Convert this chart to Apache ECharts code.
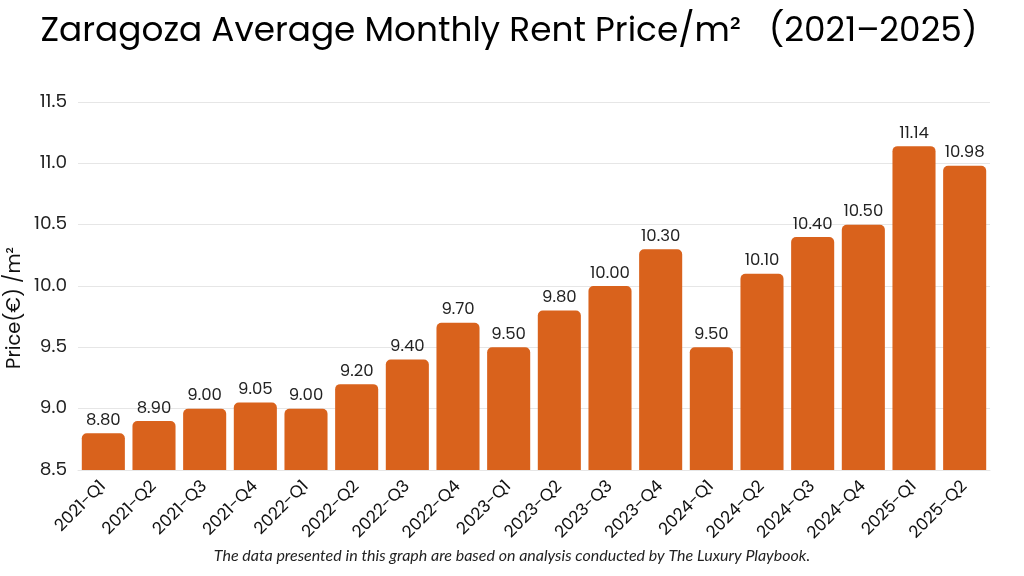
<!DOCTYPE html>
<html><head><meta charset="utf-8">
<script src="https://cdn.jsdelivr.net/npm/echarts@6/dist/echarts.min.js"></script>
<style>html,body{margin:0;padding:0;background:#fff}#c{width:1024px;height:576px}</style>
</head><body><div id="c"></div>
<script>
const categories = ['2021-Q1','2021-Q2','2021-Q3','2021-Q4','2022-Q1','2022-Q2','2022-Q3','2022-Q4','2023-Q1','2023-Q2','2023-Q3','2023-Q4','2024-Q1','2024-Q2','2024-Q3','2024-Q4','2025-Q1','2025-Q2'];
const prices = [8.80,8.90,9.00,9.05,9.00,9.20,9.40,9.70,9.50,9.80,10.00,10.30,9.50,10.10,10.40,10.50,11.14,10.98];
const yTicks = [8.5,9.0,9.5,10.0,10.5,11.0,11.5];

const FF = 'Poppins, Lato, "Noto Sans", sans-serif';
const chart = echarts.init(document.getElementById('c'));
chart.setOption({
  animation:false,
  title:{text:'Zaragoza Average Monthly Rent Price/m²   (2021–2025)', left:504, textAlign:'center', top:10,
    textStyle:{fontFamily:FF, fontSize:34.3, fontWeight:'normal', color:'#000'}},
  graphic:[
    {type:'text', left:'center', top:548, style:{text:'The data presented in this graph are based on analysis conducted by The Luxury Playbook.', font:'italic 16px Lato, "Noto Sans", sans-serif', fill:'#222'}},
    {type:'text', x:15, y:308, rotation:Math.PI/2, style:{text:'Price(€) /m²', font:'19.5px ' + FF, fill:'#111', textAlign:'center', textVerticalAlign:'middle'}}
  ],
  grid:{left:78, right:34, top:102, bottom:106},
  xAxis:{type:'category', data:categories,
    axisLine:{show:true, lineStyle:{color:'#e6e6e6'}}, axisTick:{show:false},
    axisLabel:{rotate:45, fontSize:17, color:'#111', fontFamily:FF, margin:14, interval:0}},
  yAxis:{type:'value', min:yTicks[0], max:yTicks[yTicks.length-1], interval:0.5,
    axisLabel:{fontSize:18.5, color:'#222', margin:11, fontFamily:FF, formatter:v=>v.toFixed(1)},
    splitLine:{lineStyle:{color:'#e6e6e6'}}, axisLine:{show:false}, axisTick:{show:false}},
  series:[{type:'bar', data:prices, barCategoryGap:'15%',
    itemStyle:{color:'#D9621C', borderRadius:[5,5,0,0]},
    label:{show:true, position:'top', distance:4, fontSize:16.5, color:'#222', fontFamily:FF, formatter:p=>p.value.toFixed(2)}}]
});
</script></body></html>
